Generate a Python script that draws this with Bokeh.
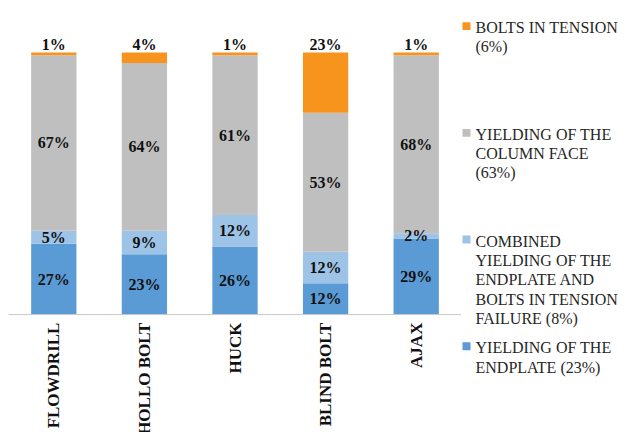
import numpy as np
from bokeh.plotting import figure
from bokeh.layouts import row
from bokeh.models import ColumnDataSource, Range1d, FactorRange, Span
from bokeh.core.properties import value
from bokeh.embed import file_html
from bokeh.resources import INLINE

# ---- data ----
categories = ["FLOWDRILL", "HOLLO BOLT", "HUCK", "BLIND BOLT", "AJAX"]
endplate = [27, 23, 26, 12, 29]          # yielding of the endplate
combined = [5, 9, 12, 12, 2]             # combined yielding + bolts in tension failure
column_face = [67, 64, 61, 53, 68]       # yielding of the column face
bolts_tension = [1, 4, 1, 23, 1]         # bolts in tension

series_keys = ["endplate", "combined", "column_face", "bolts_tension"]
series_values = [endplate, combined, column_face, bolts_tension]
series_colors = ["#5B9BD5", "#9DC3E6", "#BFBFBF", "#F7941D"]
legend_labels = [
    ["YIELDING OF THE", "ENDPLATE (23%)"],
    ["COMBINED", "YIELDING OF THE", "ENDPLATE AND", "BOLTS IN TENSION", "FAILURE (8%)"],
    ["YIELDING OF THE", "COLUMN FACE", "(63%)"],
    ["BOLTS IN TENSION", "(6%)"],
]

# ---- sources ----
data = {"cat": categories}
for k, v in zip(series_keys, series_values):
    data[k] = v
src = ColumnDataSource(data)

vals = np.array(series_values, dtype=float)
bottoms = np.vstack([np.zeros(len(categories)), np.cumsum(vals, axis=0)[:-1]])
centers = bottoms + vals / 2.0
totals = vals.sum(axis=0)

inner_src = ColumnDataSource(dict(
    x=[c for _ in range(3) for c in categories],
    y=list(centers[:3].ravel()),
    t=[f"{int(v)}%" for v in vals[:3].ravel()],
))
top_src = ColumnDataSource(dict(
    x=categories, y=list(totals), t=[f"{int(v)}%" for v in vals[3]],
))
cat_src = ColumnDataSource(dict(x=categories, y=[0] * len(categories), t=categories))

font = value("Liberation Serif")

p = figure(
    title=None,
    x_range=FactorRange(factors=categories),
    y_range=Range1d(-45, 116.8),
    width=461, height=432,
    output_backend="svg", toolbar_location=None,
    x_axis_location=None, y_axis_location=None,
    min_border_left=8, min_border_right=0, min_border_top=8, min_border_bottom=0,
)
p.outline_line_color = None
p.grid.visible = False

rs = p.vbar_stack(series_keys, x="cat", width=0.5, color=series_colors, source=src,
                  line_color=None)

p.add_layout(Span(location=0, dimension="width", line_color="#C8C8C8", line_width=1))

p.text(x="x", y="y", text="t", source=inner_src, text_font=font, text_font_style="bold",
       text_font_size="16px", text_align="center", text_baseline="middle", text_color="#111111")
p.text(x="x", y="y", text="t", source=top_src, text_font=font, text_font_style="bold",
       text_font_size="16px", text_align="center", text_baseline="bottom", text_color="#111111")
p.text(x="x", y="y", text="t", source=cat_src, text_font=font, text_font_style="bold",
       text_font_size="17px", text_align="right", text_baseline="middle", angle=np.pi / 2,
       y_offset=8, text_color="#111111")

# ---- legend panel (separate figure, pixel-like coordinates) ----
LW, LH = 159, 432
lg = figure(
    title=None,
    x_range=Range1d(0, LW), y_range=Range1d(LH, 0),
    width=LW, height=LH, output_backend="svg", toolbar_location=None,
    x_axis_location=None, y_axis_location=None,
    min_border_left=0, min_border_right=0, min_border_top=0, min_border_bottom=0,
)
lg.outline_line_color = None
lg.grid.visible = False

order = [3, 2, 1, 0]
first_center, step, line_pitch = 18, 108.7, 19.7
mk_y = [first_center + step * k for k in range(len(order))]
lg.rect(x=[5] * len(order), y=mk_y, width=8, height=8,
        color=[series_colors[i] for i in order], line_color=None)

lx, ly, lt = [], [], []
for k, i in enumerate(order):
    for j, line in enumerate(legend_labels[i]):
        lx.append(14)
        ly.append(mk_y[k] + 1.5 + j * line_pitch)
        lt.append(line)
lg.text(x=lx, y=ly, text=lt, text_font=font, text_font_size="16px",
        text_align="left", text_baseline="middle", text_color="#262626")

open("out.html", "w").write(file_html(row(p, lg), INLINE))
